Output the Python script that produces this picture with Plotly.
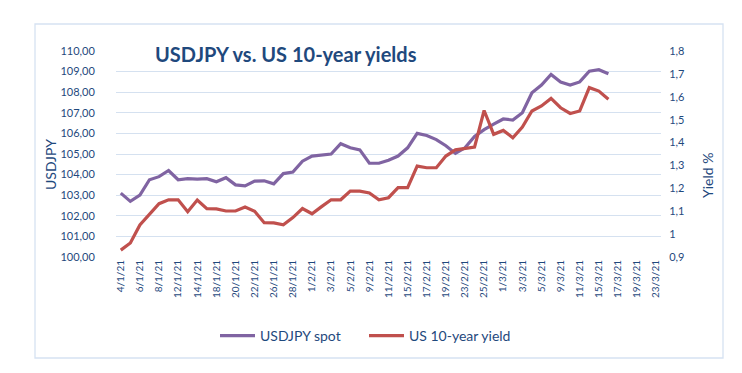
import plotly.graph_objects as go

# ---- data ----
dates = [
    "4/1/21", "5/1/21", "6/1/21", "7/1/21", "8/1/21", "11/1/21", "12/1/21", "13/1/21", "14/1/21", "15/1/21",
    "18/1/21", "19/1/21", "20/1/21", "21/1/21", "22/1/21", "25/1/21", "26/1/21", "27/1/21", "28/1/21", "29/1/21",
    "1/2/21", "2/2/21", "3/2/21", "4/2/21", "5/2/21", "8/2/21", "9/2/21", "10/2/21", "11/2/21", "12/2/21",
    "15/2/21", "16/2/21", "17/2/21", "18/2/21", "19/2/21", "22/2/21", "23/2/21", "24/2/21", "25/2/21", "26/2/21",
    "1/3/21", "2/3/21", "3/3/21", "4/3/21", "5/3/21", "8/3/21", "9/3/21", "10/3/21", "11/3/21", "12/3/21",
    "15/3/21", "16/3/21", "17/3/21", "18/3/21", "19/3/21", "22/3/21", "23/3/21",
]

usdjpy_spot = [
    103.10, 102.70, 103.00, 103.75, 103.90, 104.20, 103.75, 103.80, 103.78, 103.80,
    103.65, 103.85, 103.50, 103.45, 103.68, 103.70, 103.55, 104.05, 104.12, 104.65,
    104.90, 104.95, 105.00, 105.50, 105.30, 105.20, 104.55, 104.55, 104.70, 104.90,
    105.30, 106.00, 105.90, 105.70, 105.40, 105.03, 105.30, 105.85, 106.18, 106.45,
    106.70, 106.65, 107.00, 107.97, 108.35, 108.86, 108.49, 108.35, 108.50, 109.02,
    109.09, 108.90,
]

us10y_yield = [
    0.930, 0.961, 1.040, 1.086, 1.133, 1.150, 1.150, 1.098, 1.149, 1.111,
    1.110, 1.101, 1.101, 1.118, 1.100, 1.050, 1.049, 1.041, 1.072, 1.112,
    1.089, 1.120, 1.150, 1.150, 1.188, 1.188, 1.180, 1.150, 1.159, 1.203,
    1.203, 1.297, 1.290, 1.290, 1.341, 1.368, 1.373, 1.380, 1.540, 1.436,
    1.453, 1.421, 1.468, 1.538, 1.560, 1.593, 1.552, 1.527, 1.538, 1.640,
    1.625, 1.589,
]

left_tickvals = [100, 101, 102, 103, 104, 105, 106, 107, 108, 109, 110]
left_ticktext = ["100,00", "101,00", "102,00", "103,00", "104,00", "105,00",
                 "106,00", "107,00", "108,00", "109,00", "110,00"]
right_tickvals = [0.9, 1.0, 1.1, 1.2, 1.3, 1.4, 1.5, 1.6, 1.7, 1.8]
right_ticktext = ["0,9", "1", "1,1", "1,2", "1,3", "1,4", "1,5", "1,6", "1,7", "1,8"]
x_ticklabels = dates[::2]

title_text = "USDJPY vs. US 10-year yields"

# ---- layout constants (pixels) ----
W, H = 742, 373
L, R, T, B = 108, 653, 43, 249
TXT = "#1F497D"
GRID = "#D5E1F0"
FONT = "Lato"


def px_x(p):
    return (p - L) / (R - L)


def px_y(p):
    return (B - p) / (B - T)


fig = go.Figure()
fig.add_trace(go.Scatter(
    x=dates[:len(usdjpy_spot)], y=usdjpy_spot, name="USDJPY spot",
    mode="lines", line=dict(color="#8064A2", width=3.2), yaxis="y",
))
fig.add_trace(go.Scatter(
    x=dates[:len(us10y_yield)], y=us10y_yield, name="US 10-year yield",
    mode="lines", line=dict(color="#C0504D", width=3.2), yaxis="y2",
))

fig.update_layout(
    width=W, height=H,
    margin=dict(l=L, r=W - R, t=T, b=H - B, pad=0),
    paper_bgcolor="white", plot_bgcolor="white",
    font=dict(family=FONT, color=TXT),
    showlegend=True,
    legend=dict(
        orientation="h", x=px_x(207), xanchor="left", y=px_y(328), yanchor="middle",
        font=dict(family=FONT, size=14, color=TXT),
        itemwidth=35,
        entrywidth=99, entrywidthmode="pixels",
        bgcolor="rgba(0,0,0,0)",
    ),
    xaxis=dict(
        type="category", categoryorder="array", categoryarray=dates,
        range=[-0.5, len(dates) - 0.5],
        tickmode="array", tickvals=x_ticklabels, ticktext=x_ticklabels,
        tickangle=-90, tickfont=dict(family=FONT, size=10, color=TXT),
        showgrid=False, showline=False, zeroline=False, ticks="",
    ),
    yaxis=dict(
        range=[100, 110], tickmode="array", tickvals=left_tickvals, ticktext=left_ticktext,
        tickfont=dict(family=FONT, size=11, color=TXT),
        showgrid=True, gridcolor=GRID, gridwidth=1.3, zeroline=False, showline=False,
        ticks="outside", ticklen=18, tickcolor="rgba(0,0,0,0)",
    ),
    yaxis2=dict(
        range=[0.9, 1.8], overlaying="y", side="right",
        tickmode="array", tickvals=right_tickvals, ticktext=right_ticktext,
        tickfont=dict(family=FONT, size=11, color=TXT),
        showgrid=False, zeroline=False, showline=False,
        ticks="outside", ticklen=5, tickcolor="rgba(0,0,0,0)",
    ),
    shapes=[dict(
        type="rect", xref="paper", yref="paper",
        x0=px_x(27), x1=px_x(715), y0=px_y(350), y1=px_y(16),
        line=dict(color="#D6E2F2", width=1.3), layer="below",
    )],
    annotations=[
        dict(text="<b>" + title_text + "</b>", xref="paper", yref="paper",
             x=px_x(143), y=px_y(46), xanchor="left", yanchor="middle",
             showarrow=False, bgcolor="white", borderpad=3,
             font=dict(family=FONT, size=20, color=TXT)),
        dict(text="USDJPY", xref="paper", yref="paper",
             x=px_x(42), y=px_y(157), xanchor="center", yanchor="middle",
             textangle=-90, showarrow=False,
             font=dict(family=FONT, size=14, color=TXT)),
        dict(text="Yield %", xref="paper", yref="paper",
             x=px_x(699), y=px_y(167), xanchor="center", yanchor="middle",
             textangle=-90, showarrow=False,
             font=dict(family=FONT, size=14, color=TXT)),
    ],
)

fig.write_html("out.html")
